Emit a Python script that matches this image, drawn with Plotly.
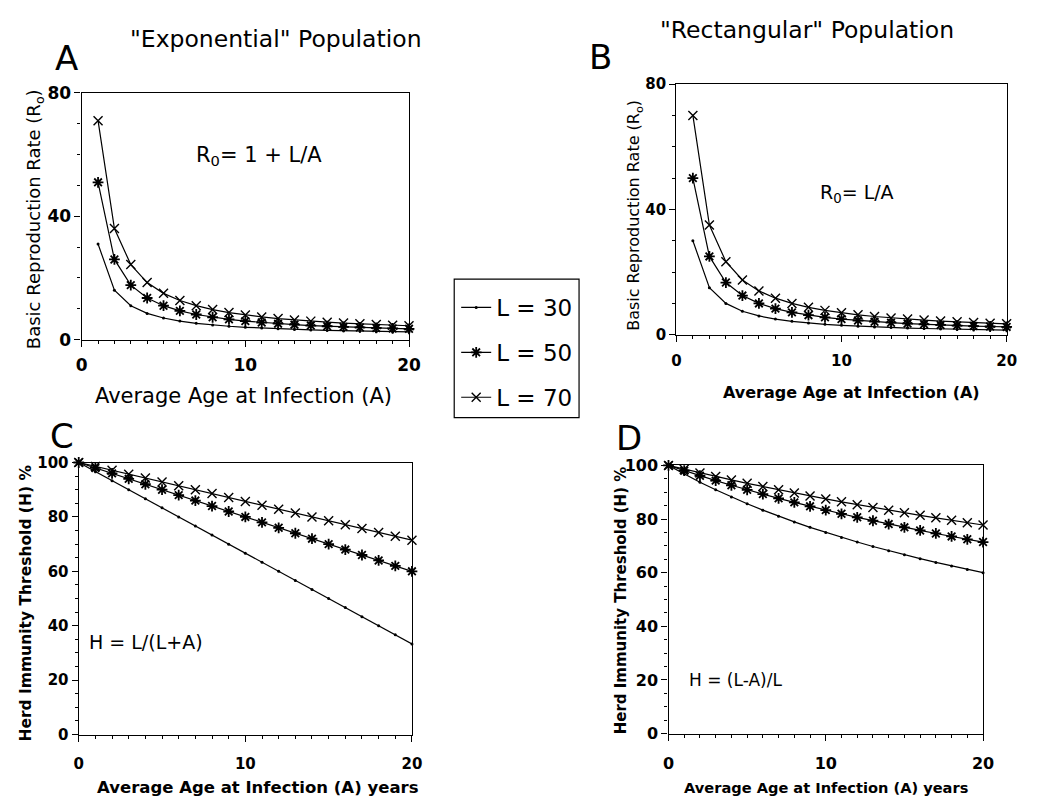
import plotly.graph_objects as go

# average age at infection (A)
AGES_R = list(range(1, 21))
AGES_H = list(range(0, 21))

# panel A: "exponential" population, R0 = 1 + L/A
EXP_R0_L30 = [31, 16, 11, 8.5, 7, 6, 5.29, 4.75, 4.33, 4, 3.73, 3.5, 3.31, 3.14, 3, 2.88, 2.76, 2.67, 2.58, 2.5]
EXP_R0_L50 = [51, 26, 17.67, 13.5, 11, 9.33, 8.14, 7.25, 6.56, 6, 5.55, 5.17, 4.85, 4.57, 4.33, 4.13, 3.94, 3.78, 3.63, 3.5]
EXP_R0_L70 = [71, 36, 24.33, 18.5, 15, 12.67, 11, 9.75, 8.78, 8, 7.36, 6.83, 6.38, 6, 5.67, 5.38, 5.12, 4.89, 4.68, 4.5]

# panel B: "rectangular" population, R0 = L/A
RECT_R0_L30 = [30, 15, 10, 7.5, 6, 5, 4.29, 3.75, 3.33, 3, 2.73, 2.5, 2.31, 2.14, 2, 1.88, 1.76, 1.67, 1.58, 1.5]
RECT_R0_L50 = [50, 25, 16.67, 12.5, 10, 8.33, 7.14, 6.25, 5.56, 5, 4.55, 4.17, 3.85, 3.57, 3.33, 3.13, 2.94, 2.78, 2.63, 2.5]
RECT_R0_L70 = [70, 35, 23.33, 17.5, 14, 11.67, 10, 8.75, 7.78, 7, 6.36, 5.83, 5.38, 5, 4.67, 4.38, 4.12, 3.89, 3.68, 3.5]

# panel C: herd immunity threshold (%), straight lines
EXP_H_L30 = [100, 96.67, 93.33, 90, 86.67, 83.33, 80, 76.67, 73.33, 70, 66.67, 63.33, 60, 56.67, 53.33, 50, 46.67, 43.33, 40, 36.67, 33.33]
EXP_H_L50 = [100, 98, 96, 94, 92, 90, 88, 86, 84, 82, 80, 78, 76, 74, 72, 70, 68, 66, 64, 62, 60]
EXP_H_L70 = [100, 98.57, 97.14, 95.71, 94.29, 92.86, 91.43, 90, 88.57, 87.14, 85.71, 84.29, 82.86, 81.43, 80, 78.57, 77.14, 75.71, 74.29, 72.86, 71.43]

# panel D: herd immunity threshold (%), curved
RECT_H_L30 = [100, 96.77, 93.75, 90.91, 88.24, 85.71, 83.33, 81.08, 78.95, 76.92, 75, 73.17, 71.43, 69.77, 68.18, 66.67, 65.22, 63.83, 62.5, 61.22, 60]
RECT_H_L50 = [100, 98.04, 96.15, 94.34, 92.59, 90.91, 89.29, 87.72, 86.21, 84.75, 83.33, 81.97, 80.65, 79.37, 78.13, 76.92, 75.76, 74.63, 73.53, 72.46, 71.43]
RECT_H_L70 = [100, 98.59, 97.22, 95.89, 94.59, 93.33, 92.11, 90.91, 89.74, 88.61, 87.5, 86.42, 85.37, 84.34, 83.33, 82.35, 81.4, 80.46, 79.55, 78.65, 77.78]

LABELS = ["L = 30", "L = 50", "L = 70"]

W, H = 1055, 807
FONT = "DejaVu Sans, Arial, sans-serif"
INK = "black"


def px_x(a, b):
    return [a / W, b / W]


def px_y(top, bottom):
    return [1 - bottom / H, 1 - top / H]


MARKERS = [
    dict(symbol="circle", size=3, color=INK),
    dict(symbol="asterisk-open", size=9, color=INK, line=dict(width=1.8, color=INK)),
    dict(symbol="x-thin-open", size=9, color=INK, line=dict(width=1.4, color=INK)),
]

fig = go.Figure()

panels = [
    ("x", "y", AGES_R, [EXP_R0_L30, EXP_R0_L50, EXP_R0_L70], True),
    ("x2", "y2", AGES_R, [RECT_R0_L30, RECT_R0_L50, RECT_R0_L70], False),
    ("x3", "y3", AGES_H, [EXP_H_L30, EXP_H_L50, EXP_H_L70], False),
    ("x4", "y4", AGES_H, [RECT_H_L30, RECT_H_L50, RECT_H_L70], False),
]
for xa, ya, ages, series, legend in panels:
    for i, values in enumerate(series):
        fig.add_trace(go.Scatter(
            x=ages, y=values, xaxis=xa, yaxis=ya, mode="lines+markers",
            name=LABELS[i], legendgroup=LABELS[i], showlegend=legend,
            line=dict(color=INK, width=1.2), marker=MARKERS[i], cliponaxis=False,
        ))


def axis(domain, rng, dtick, minor, tickfont, standoff_ticks, anchor):
    return dict(
        domain=domain, range=rng, dtick=dtick, tick0=0, ticks="outside", ticklen=6, tickwidth=1.2,
        tickcolor=INK, showline=True, linecolor=INK, linewidth=1.4, mirror=True, showgrid=False,
        zeroline=False, fixedrange=True, anchor=anchor, ticklabelstandoff=standoff_ticks,
        tickfont=dict(size=tickfont, family=FONT, color=INK, weight="bold"),
        minor=dict(dtick=minor, ticks="outside", ticklen=3, tickwidth=1, tickcolor=INK, showgrid=False),
    )


fig.update_layout(
    width=W, height=H, margin=dict(l=0, r=0, t=0, b=0),
    paper_bgcolor="white", plot_bgcolor="white",
    font=dict(family=FONT, color=INK),
    xaxis=axis(px_x(77, 410), [0, 20], 10, 1, 17, 4, "y"),
    yaxis=axis(px_y(85, 338), [0, 80], 40, 10, 17, 0, "x"),
    xaxis2=axis(px_x(682, 1018), [0, 20], 10, 1, 15, 6, "y2"),
    yaxis2=axis(px_y(76, 333), [0, 80], 40, 10, 15, 0, "x2"),
    xaxis3=axis(px_x(74, 413), [0, 20], 10, 1, 15, 9, "y3"),
    yaxis3=axis(px_y(464, 743), [0, 100], 20, 5, 15, 0, "x3"),
    xaxis4=axis(px_x(674, 994), [0, 20], 10, 1, 16, 9, "y4"),
    yaxis4=axis(px_y(467, 742), [0, 100], 20, 5, 16, 0, "x4"),
    legend=dict(
        x=458 / W, y=1 - 283 / H, xanchor="left", yanchor="top",
        borderwidth=0, bgcolor="rgba(0,0,0,0)",
        font=dict(size=23, family=FONT, color=INK), tracegroupgap=12,
        itemwidth=30,
    ),
)

# legend frame
fig.add_shape(type="rect", xref="paper", yref="paper",
              x0=456 / W, x1=583 / W, y0=1 - 418 / H, y1=1 - 276 / H,
              line=dict(color=INK, width=1.2))

texts = [
    # (text, x px, y px, size, angle, bold)
    ('"Exponential" Population', 275, 30, 23.5, 0, False),
    ('"Rectangular" Population', 815, 21, 23.5, 0, False),
    ("A", 62, 49, 34, 0, False),
    ("B", 605, 48, 34, 0, False),
    ("C", 57, 437, 34, 0, False),
    ("D", 634, 439, 34, 0, False),
    ("R<sub>0</sub>= 1 + L/A", 257, 150, 21, 0, False),
    ("R<sub>0</sub>= L/A", 866, 188, 19, 0, False),
    ("H = L/(L+A)", 142, 648, 19, 0, False),
    ("H = (L-A)/L", 742, 687, 17, 0, False),
    # axis titles
    ("Average Age at Infection (A)", 242, 396, 21, 0, False),
    ("Basic Reproduction Rate (R<sub>o</sub>)", 29, 215, 18, -90, False),
    ("Average Age at Infection (A)", 860, 392, 16, 0, True),
    ("Basic Reproduction Rate (R<sub>o</sub>)", 640, 211, 16, -90, False),
    ("Average Age at Infection (A) years", 256, 797, 16.5, 0, True),
    ("Herd Immunity Threshold (H) %", 20, 608, 15.5, -90, True),
    ("Average Age at Infection (A) years", 834, 797, 14.6, 0, True),
    ("Herd Immunity Threshold (H) %", 626, 605, 15, -90, True),
]
for text, x, y, size, angle, bold in texts:
    fig.add_annotation(
        text=f"<b>{text}</b>" if bold else text, x=x / W, y=1 - y / H, xref="paper", yref="paper",
        showarrow=False, xanchor="center", yanchor="middle", textangle=angle,
        font=dict(size=size, family=FONT, color=INK),
    )

fig.write_html("out.html", config={"displayModeBar": False},
               post_script="document.body.style.margin='0';")
